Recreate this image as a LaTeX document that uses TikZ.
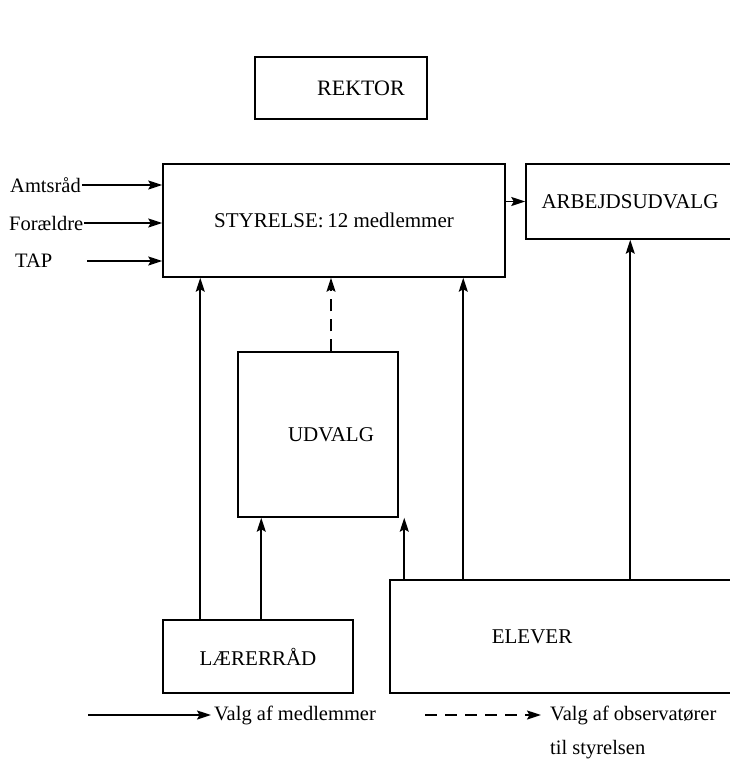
\documentclass[tikz,border=0pt]{standalone}
\usepackage{fontspec}
\setmainfont{Liberation Serif}
\usetikzlibrary{positioning,arrows.meta}
\tikzset{boks/.style={rectangle,draw,line width=1.5pt,inner sep=0pt,font=\fontsize{21}{25}\selectfont}}
\tikzset{lbl/.style={inner sep=1pt,font=\fontsize{20.5}{24}\selectfont}}
\tikzset{pil/.style={line width=1.6pt,-{Stealth[length=14pt,width=9pt,inset=2.5pt]}}}
\tikzset{obspil/.style={pil,dash pattern=on 12pt off 8pt}}

\begin{document}
\begin{tikzpicture}[x=1pt,y=-1pt]
    \useasboundingbox (0,0) rectangle (730,771);

    \node[boks,minimum width=172pt,minimum height=62pt,font=\fontsize{22}{26}\selectfont] (rektor) at (341,88) {\hspace*{40pt}REKTOR};
    \node[boks,minimum width=342pt,minimum height=113pt] (styrelse) at (334,220.5) {STYRELSE:\,12 medlemmer};
    \node[boks,minimum width=208pt,minimum height=75pt] (arbejd) at (630,201.5) {ARBEJDSUDVALG};
    \node[boks,minimum width=160pt,minimum height=165pt] (udvalg) at (318,434.5) {\hspace*{26pt}UDVALG};
    \node[boks,minimum width=190pt,minimum height=73pt] (laerer) at (258,656.5) {LÆRERRÅD};
    \node[boks,minimum width=344pt,minimum height=113pt] (elever) at (562,636.5) {ELEVER\hspace*{60pt}};

    \node[lbl,anchor=west] (amt) at (9,185) {Amtsråd};
    \node[lbl,anchor=west] (foraeldre) at (8,223) {Forældre};
    \node[lbl,anchor=west] (tap) at (14,261) {TAP};

    \draw [pil] (amt) -- (amt -| styrelse.west);
    \draw [pil] (foraeldre) -- (foraeldre -| styrelse.west);
    \draw [pil] ([xshift=34pt]tap.east) -- (tap -| styrelse.west);
    \draw [pil] (styrelse.east |- arbejd.west) -- (arbejd.west);

    \draw [pil] ([xshift=38pt]laerer.north west) -- ([xshift=38pt]laerer.north west |- styrelse.south);
    \draw [pil] ([xshift=99pt]laerer.north west) -- ([xshift=99pt]laerer.north west |- udvalg.south);
    \draw [pil] ([xshift=15pt]elever.north west) -- ([xshift=15pt]elever.north west |- udvalg.south);
    \draw [pil] ([xshift=74pt]elever.north west) -- ([xshift=74pt]elever.north west |- styrelse.south);
    \draw [pil] ([xshift=241pt]elever.north west) -- ([xshift=241pt]elever.north west |- arbejd.south);
    \draw [obspil] ([xshift=13pt]udvalg.north) -- ([xshift=13pt]udvalg.north |- styrelse.south);

    % forklaring
    \coordinate (s1) at (88,715);
    \coordinate (s2) at (211,715);
    \coordinate (d1) at (425,715);
    \coordinate (d2) at (541,715);
    \node[lbl,anchor=west] (medl) at (213,715) {Valg af medlemmer};
    \node[lbl,anchor=west] (obs) at (549,715) {Valg af observatører};
    \node[lbl,anchor=west] (tilstyr) at (549,750) {til styrelsen};
    \draw [pil] (s1) -- (s2);
    \draw [obspil] (d1) -- (d2);
\end{tikzpicture}
\end{document}
